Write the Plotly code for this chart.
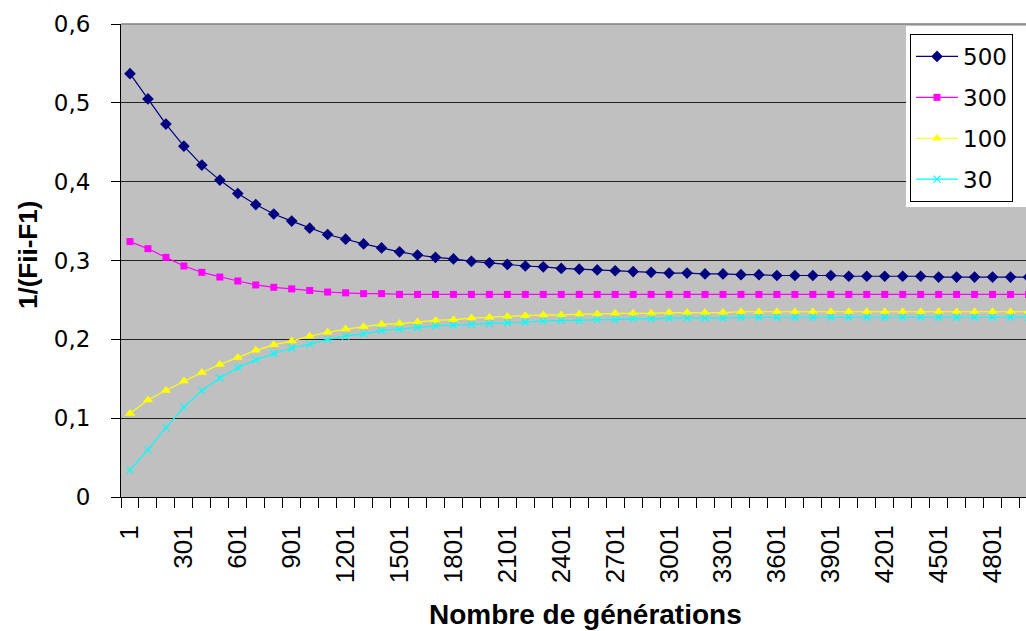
import plotly.graph_objects as go

generations = [1, 101, 201, 301, 401, 501, 601, 701, 801, 901,
               1001, 1101, 1201, 1301, 1401, 1501, 1601, 1701, 1801, 1901,
               2001, 2101, 2201, 2301, 2401, 2501, 2601, 2701, 2801, 2901,
               3001, 3101, 3201, 3301, 3401, 3501, 3601, 3701, 3801, 3901,
               4001, 4101, 4201, 4301, 4401, 4501, 4601, 4701, 4801, 4901, 5001]

tick_labels = [1, 301, 601, 901, 1201, 1501, 1801, 2101, 2401, 2701, 3001,
               3301, 3601, 3901, 4201, 4501, 4801]

s500 = [0.537, 0.505, 0.473, 0.445, 0.421, 0.402, 0.385, 0.371, 0.359, 0.350,
        0.341, 0.333, 0.327, 0.321, 0.316, 0.311, 0.307, 0.304, 0.302, 0.299,
        0.297, 0.295, 0.293, 0.292, 0.290, 0.289, 0.288, 0.287, 0.286, 0.285,
        0.284, 0.284, 0.283, 0.283, 0.282, 0.282, 0.281, 0.281, 0.281, 0.281,
        0.280, 0.280, 0.280, 0.280, 0.280, 0.279, 0.279, 0.279, 0.279, 0.279, 0.279]

s300 = [0.324, 0.315, 0.304, 0.293, 0.285, 0.279, 0.274, 0.269, 0.266, 0.264,
        0.262, 0.260, 0.259, 0.258, 0.258, 0.257, 0.257, 0.257, 0.257, 0.257,
        0.257, 0.257, 0.257, 0.257, 0.257, 0.257, 0.257, 0.257, 0.257, 0.257,
        0.257, 0.257, 0.257, 0.257, 0.257, 0.257, 0.257, 0.257, 0.257, 0.257,
        0.257, 0.257, 0.257, 0.257, 0.257, 0.257, 0.257, 0.257, 0.257, 0.257, 0.257]

s100 = [0.106, 0.123, 0.135, 0.147, 0.158, 0.168, 0.177, 0.186, 0.193, 0.198,
        0.204, 0.209, 0.213, 0.216, 0.219, 0.220, 0.222, 0.224, 0.225, 0.227,
        0.228, 0.229, 0.230, 0.231, 0.231, 0.232, 0.232, 0.233, 0.233, 0.233,
        0.234, 0.234, 0.234, 0.234, 0.235, 0.235, 0.235, 0.235, 0.235, 0.235,
        0.235, 0.235, 0.235, 0.235, 0.235, 0.235, 0.235, 0.235, 0.235, 0.235, 0.235]

s30 = [0.034, 0.060, 0.088, 0.114, 0.135, 0.151, 0.164, 0.174, 0.182, 0.189,
       0.194, 0.200, 0.204, 0.207, 0.211, 0.213, 0.215, 0.217, 0.218, 0.219,
       0.220, 0.221, 0.222, 0.223, 0.224, 0.224, 0.225, 0.225, 0.226, 0.226,
       0.227, 0.227, 0.227, 0.227, 0.228, 0.228, 0.228, 0.228, 0.228, 0.228,
       0.228, 0.228, 0.228, 0.228, 0.228, 0.228, 0.228, 0.228, 0.228, 0.228, 0.228]

series = [
    ("500", s500, "#000080", "diamond", 9),
    ("300", s300, "#FF00FF", "square", 7),
    ("100", s100, "#FFFF00", "triangle-up", 9),
    ("30", s30, "#00FFFF", "x-thin", 7),
]

fig = go.Figure()
for name, vals, color, sym, size in series:
    marker = dict(symbol=sym, size=size, color=color)
    if sym == "x-thin":
        marker["line"] = dict(color=color, width=1.2)
    fig.add_trace(go.Scatter(
        x=generations, y=vals, name=name, mode="lines+markers",
        line=dict(color=color, width=1.2), marker=marker,
        legendgroup=name,
    ))

W, H = 1026, 631
L, R, T, B = 121, 0, 24, 134
pw, ph = W - L - R, H - T - B
px_per_100 = 17.97
xr0 = generations[0] - 50
xr1 = xr0 + pw / px_per_100 * 100

def px_x(p):
    return (p - L) / pw

def px_y(p):
    return (H - B - p) / ph

boundaries = [g - 50 for g in generations] + [generations[-1] + 50]

fig.update_layout(
    width=W, height=H,
    margin=dict(l=L, r=R, t=T, b=B, pad=0),
    paper_bgcolor="white",
    plot_bgcolor="#C0C0C0",
    separators=", ",
    showlegend=True,
    xaxis=dict(
        type="linear", range=[xr0, xr1],
        tickvals=tick_labels, ticktext=[str(t) for t in tick_labels],
        ticks="", tickangle=-90, ticklabelstandoff=17,
        tickfont=dict(family="Liberation Sans", size=26, color="black"),
        showgrid=False, zeroline=False,
        showline=True, linecolor="black", linewidth=1,
        minor=dict(tickvals=boundaries, ticks="outside", ticklen=10,
                   tickcolor="black", tickwidth=1, showgrid=False),
    ),
    yaxis=dict(
        range=[0, 0.6], dtick=0.1, tick0=0,
        ticks="outside", ticklen=9, tickcolor="black", tickwidth=1,
        ticklabelstandoff=16,
        tickfont=dict(family="DejaVu Sans", size=23, color="black"),
        showgrid=True, gridcolor="#222222", gridwidth=1.3,
        zeroline=False,
        showline=True, linecolor="black", linewidth=1,
    ),
    legend=dict(
        x=px_x(910), y=px_y(34), xanchor="left", yanchor="top",
        bgcolor="white", bordercolor="black", borderwidth=1,
        font=dict(family="DejaVu Sans", size=23, color="black"),
        traceorder="grouped", tracegroupgap=8,
        itemwidth=42,
    ),
    shapes=[
        dict(type="line", xref="paper", yref="paper", x0=0, x1=1, y0=1, y1=1,
             line=dict(color="#808080", width=1.5)),
        dict(type="rect", xref="paper", yref="paper",
             x0=px_x(906), x1=1.02, y0=px_y(207), y1=px_y(26),
             fillcolor="white", line=dict(width=0), layer="above"),
    ],
    annotations=[
        dict(text="<b>Nombre de générations</b>", xref="paper", yref="paper",
             x=px_x(585), y=px_y(614), xanchor="center", yanchor="middle",
             showarrow=False,
             font=dict(family="Liberation Sans", size=28, color="black")),
        dict(text="<b>1/(Fii-F1)</b>", xref="paper", yref="paper",
             x=px_x(28), y=px_y(255), xanchor="center", yanchor="middle",
             textangle=-90, showarrow=False,
             font=dict(family="Liberation Sans", size=26, color="black")),
    ],
)

fig.write_html(
    "out.html",
    config={"displayModeBar": False},
    post_script="document.body.style.margin='0';document.body.style.overflow='hidden';",
)
